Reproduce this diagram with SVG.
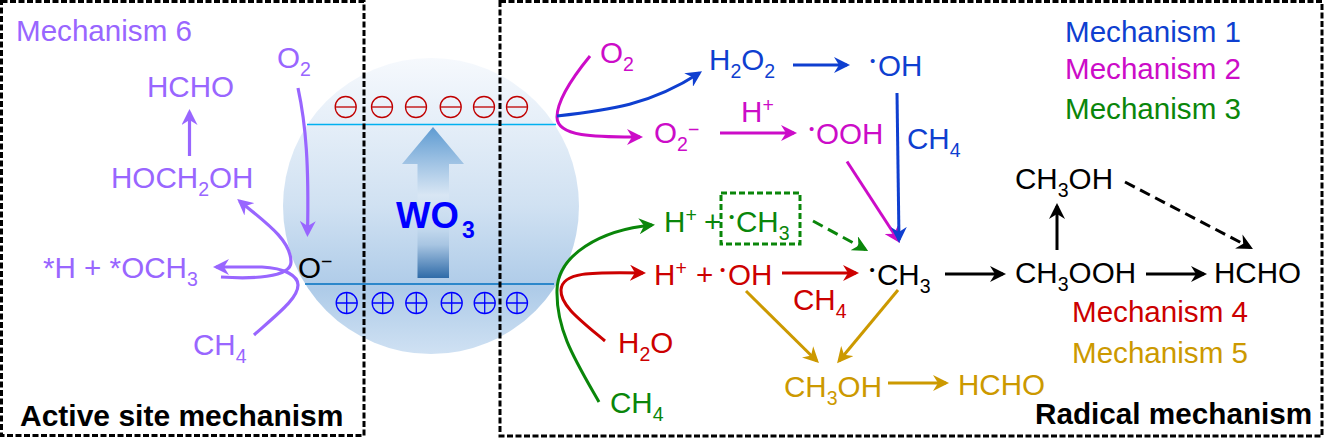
<svg xmlns="http://www.w3.org/2000/svg" width="1324" height="438" viewBox="0 0 1324 438">
<style>
text{font-family:"Liberation Sans",Arial,sans-serif;font-size:29.6px}
.b{font-weight:bold;fill:#000}
.s{font-size:19.5px}
.d{font-size:15px}
.pu{fill:#9966ff}.bl{fill:#0f3fd0}.ma{fill:#cc0cc8}.gr{fill:#0a860a}.re{fill:#cc0000}.go{fill:#cc9900}.k{fill:#000}
.c{fill:none;stroke-width:3}
.pus{stroke:#9966ff;stroke-width:3.2}.bls{stroke:#0f3fd0}.mas{stroke:#cc0cc8}.grs{stroke:#0a860a}.res{stroke:#cc0000}.gos{stroke:#cc9900}.ks{stroke:#000}
.box{fill:none;stroke:#000;stroke-width:3;stroke-dasharray:6 2.500}
.em{fill:none;stroke:#c00000;stroke-width:1.3}
.ep{fill:none;stroke:#0000ff;stroke-width:1.3}
</style>
<defs>
<linearGradient id="ball" x1="0" y1="0" x2="0" y2="1">
<stop offset="0" stop-color="#f6f9fd"/><stop offset="0.5" stop-color="#d0e1f2"/><stop offset="0.78" stop-color="#aecbe8"/><stop offset="1" stop-color="#cfe1f3"/>
</linearGradient>
<linearGradient id="up" x1="0" y1="0" x2="0" y2="1">
<stop offset="0" stop-color="#5e9bd2"/><stop offset="0.25" stop-color="#a3c5e5"/><stop offset="0.45" stop-color="#d8e6f4"/><stop offset="0.68" stop-color="#c2d8ed"/><stop offset="0.78" stop-color="#a8c5e2"/><stop offset="1" stop-color="#2f6ba8"/>
</linearGradient>
<marker id="m-pu" markerUnits="userSpaceOnUse" markerWidth="16" markerHeight="16" refX="13" refY="8" orient="auto" viewBox="0 0 16 16"><path d="M0,0L16,8L0,16L5,8Z" fill="#9966ff"/></marker>
<marker id="m-bl" markerUnits="userSpaceOnUse" markerWidth="16" markerHeight="16" refX="13" refY="8" orient="auto" viewBox="0 0 16 16"><path d="M0,0L16,8L0,16L5,8Z" fill="#0f3fd0"/></marker>
<marker id="m-ma" markerUnits="userSpaceOnUse" markerWidth="16" markerHeight="16" refX="13" refY="8" orient="auto" viewBox="0 0 16 16"><path d="M0,0L16,8L0,16L5,8Z" fill="#cc0cc8"/></marker>
<marker id="m-gr" markerUnits="userSpaceOnUse" markerWidth="16" markerHeight="16" refX="13" refY="8" orient="auto" viewBox="0 0 16 16"><path d="M0,0L16,8L0,16L5,8Z" fill="#0a860a"/></marker>
<marker id="m-re" markerUnits="userSpaceOnUse" markerWidth="16" markerHeight="16" refX="13" refY="8" orient="auto" viewBox="0 0 16 16"><path d="M0,0L16,8L0,16L5,8Z" fill="#cc0000"/></marker>
<marker id="m-go" markerUnits="userSpaceOnUse" markerWidth="16" markerHeight="16" refX="13" refY="8" orient="auto" viewBox="0 0 16 16"><path d="M0,0L16,8L0,16L5,8Z" fill="#cc9900"/></marker>
<marker id="m-k" markerUnits="userSpaceOnUse" markerWidth="16" markerHeight="16" refX="13" refY="8" orient="auto" viewBox="0 0 16 16"><path d="M0,0L16,8L0,16L5,8Z" fill="#000"/></marker>
</defs>
<rect width="1324" height="438" fill="#fff"/>
<g id="wo3-particle">
<circle cx="431" cy="206" r="148" fill="url(#ball)"/>
<line x1="307" y1="124.500" x2="556" y2="124.500" stroke="#00b0f0" stroke-width="1.500"/>
<line x1="305" y1="284" x2="554" y2="284" stroke="#0070c0" stroke-width="1.500"/>
<path d="M433,127L464,164H449V278H417.500V164H402Z" fill="url(#up)"/>
<text x="396" y="228" fill="#0000ff" style="font-weight:bold;font-size:36.500px">WO<tspan x="462" dy="10" style="font-size:23px">3</tspan></text>
</g>
<g id="electrons">
<g class="em"><circle cx="345.700" cy="107" r="10.500"/><path d="M335.200,107h21"/><circle cx="382" cy="107" r="10.500"/><path d="M371.500,107h21"/><circle cx="416" cy="107" r="10.500"/><path d="M405.500,107h21"/><circle cx="450.700" cy="107" r="10.500"/><path d="M440.200,107h21"/><circle cx="484" cy="107" r="10.500"/><path d="M473.500,107h21"/><circle cx="517" cy="107" r="10.500"/><path d="M506.500,107h21"/></g>
</g>
<g id="holes">
<g class="ep"><circle cx="346.700" cy="303" r="10.500"/><path d="M336.200,303h21M346.700,292.500v21"/><circle cx="382.700" cy="303" r="10.500"/><path d="M372.200,303h21M382.700,292.500v21"/><circle cx="416.300" cy="303" r="10.500"/><path d="M405.800,303h21M416.300,292.500v21"/><circle cx="451.700" cy="303" r="10.500"/><path d="M441.200,303h21M451.700,292.500v21"/><circle cx="484.700" cy="303" r="10.500"/><path d="M474.200,303h21M484.700,292.500v21"/><circle cx="517" cy="303" r="10.500"/><path d="M506.500,303h21M517,292.500v21"/></g>
</g>
<g id="panel-active"><rect class="box" x="1.500" y="1.500" width="362.500" height="434"/><text class="b" x="20" y="426" style="font-size:30px">Active site mechanism</text></g>
<g id="panel-radical"><rect class="box" x="500" y="1.500" width="822" height="434.500"/><text class="b" x="1035" y="424" style="font-size:29.700px">Radical mechanism</text></g>
<g id="connectors">
<path class="c pus" marker-end="url(#m-pu)" d="M298,88C306,125 309,165 307.500,234"/>
<path class="c pus" marker-end="url(#m-pu)" d="M189.500,156V112"/>
<path class="c pus" marker-end="url(#m-pu)" d="M254,335C280,312 298,298 298,285C298,276 285,268 262,267L216,267"/>
<path class="c pus" marker-end="url(#m-pu)" d="M221,277C250,279 291,278 291,262C291,240 265,222 239.500,201"/>
<path class="c mas" marker-end="url(#m-ma)" d="M590,56C572,78 557,102 557,117C557,138 600,137 640,137"/>
<path class="c mas" marker-end="url(#m-ma)" d="M720,133H794"/>
<path class="c mas" marker-end="url(#m-ma)" d="M847,161.500L898.400,240.500"/>
<path class="c bls" marker-end="url(#m-bl)" d="M557,116C610,110 650,105 699.500,73"/>
<path class="c bls" marker-end="url(#m-bl)" d="M793,65H847"/>
<path class="c bls" marker-end="url(#m-bl)" d="M897,93L899,240"/>
<path class="c grs" marker-end="url(#m-gr)" d="M599,402C575,360 556,330 557,290C558,255 600,230 652,225"/>
<path class="c grs" marker-end="url(#m-gr)" stroke-dasharray="11 6" d="M813,221L865.500,249.500"/>
<rect class="c grs" stroke-dasharray="6 3" x="721" y="193" width="79" height="51"/>
<path class="c res" marker-end="url(#m-re)" d="M605,341C580,320 560,305 561,290C562,272 590,272 643,273"/>
<path class="c res" marker-end="url(#m-re)" d="M782,273H856"/>
<path class="c gos" marker-end="url(#m-go)" d="M746,291L816.800,361"/>
<path class="c gos" marker-end="url(#m-go)" d="M898,290L839,361"/>
<path class="c gos" marker-end="url(#m-go)" d="M888,383H946"/>
<path class="c ks" marker-end="url(#m-k)" d="M945,274H1003"/>
<path class="c ks" marker-end="url(#m-k)" d="M1146,274H1204"/>
<path class="c ks" marker-end="url(#m-k)" d="M1057,250V206"/>
<path class="c ks" marker-end="url(#m-k)" stroke-dasharray="11 6" d="M1125,182L1250.300,247.500"/>
</g>
<g id="n-mech6"><text class="pu" x="16" y="41">Mechanism 6</text></g>
<g id="n-o2-a"><text class="pu" x="277" y="68">O<tspan class="s" dy="8">2</tspan></text></g>
<g id="n-hcho-a"><text class="pu" x="147" y="97">HCHO</text></g>
<g id="n-hoch2oh"><text class="pu" x="111" y="188">HOCH<tspan class="s" dy="8">2</tspan><tspan dy="-8">OH</tspan></text></g>
<g id="n-och3"><text class="pu" x="43" y="278">*H + *OCH<tspan class="s" dy="8">3</tspan></text></g>
<g id="n-ominus"><text class="k" x="298" y="278">O<tspan class="s" dy="-10">−</tspan></text></g>
<g id="n-ch4-a"><text class="pu" x="193" y="355">CH<tspan class="s" dy="8">4</tspan></text></g>
<g id="n-o2-r"><text class="ma" x="600" y="63">O<tspan class="s" dy="8">2</tspan></text></g>
<g id="n-h2o2"><text class="bl" x="709" y="70">H<tspan class="s" dy="8">2</tspan><tspan dy="-8">O</tspan><tspan class="s" dy="8">2</tspan></text></g>
<g id="n-oh-b"><text class="bl" x="870" y="76"><tspan class="d" dy="-10">•</tspan><tspan x="878" dy="10">OH</tspan></text></g>
<g id="n-o2m"><text class="ma" x="654" y="143">O<tspan class="s" dy="8">2</tspan><tspan class="s" dy="-15">−</tspan></text></g>
<g id="n-hp-m"><text class="ma" x="741" y="122">H<tspan class="s" dy="-10">+</tspan></text></g>
<g id="n-ooh"><text class="ma" x="809" y="144"><tspan class="d" dy="-10">•</tspan><tspan x="816" dy="10">OOH</tspan></text></g>
<g id="n-ch4-b"><text class="bl" x="907" y="149">CH<tspan class="s" dy="8">4</tspan></text></g>
<g id="n-hp-g"><text class="gr" x="664" y="232">H<tspan class="s" dy="-10">+</tspan><tspan x="704" dy="10">+</tspan></text><text class="gr" x="729" y="232"><tspan class="d" dy="-10">•</tspan><tspan x="736" dy="10">CH</tspan><tspan class="s" dy="8">3</tspan></text></g>
<g id="n-hp-r"><text class="re" x="654" y="285">H<tspan class="s" dy="-10">+</tspan><tspan x="696" dy="10">+</tspan></text><text class="re" x="720" y="285"><tspan class="d" dy="-10">•</tspan><tspan x="728" dy="10">OH</tspan></text></g>
<g id="n-ch4-r"><text class="re" x="793" y="310">CH<tspan class="s" dy="8">4</tspan></text></g>
<g id="n-ch3"><text class="k" x="869.500" y="285"><tspan class="d" dy="-10">•</tspan><tspan x="877" dy="10">CH</tspan><tspan class="s" dy="8">3</tspan></text></g>
<g id="n-h2o"><text class="re" x="618" y="353">H<tspan class="s" dy="8">2</tspan><tspan dy="-8">O</tspan></text></g>
<g id="n-ch4-g"><text class="gr" x="610" y="413">CH<tspan class="s" dy="8">4</tspan></text></g>
<g id="n-ch3oh-g"><text class="go" x="784" y="397">CH<tspan class="s" dy="8">3</tspan><tspan dy="-8">OH</tspan></text></g>
<g id="n-hcho-g"><text class="go" x="958" y="395">HCHO</text></g>
<g id="n-ch3oh-k"><text class="k" x="1015" y="189">CH<tspan class="s" dy="8">3</tspan><tspan dy="-8">OH</tspan></text></g>
<g id="n-ch3ooh"><text class="k" x="1015" y="283">CH<tspan class="s" dy="8">3</tspan><tspan dy="-8">OOH</tspan></text></g>
<g id="n-hcho-k"><text class="k" x="1214" y="283">HCHO</text></g>
<g id="legend">
<text class="bl" x="1065" y="42">Mechanism 1</text>
<text class="ma" x="1065" y="79">Mechanism 2</text>
<text class="gr" x="1065" y="119">Mechanism 3</text>
<text class="re" x="1072" y="322">Mechanism 4</text>
<text class="go" x="1072" y="363">Mechanism 5</text>
</g>
</svg>
